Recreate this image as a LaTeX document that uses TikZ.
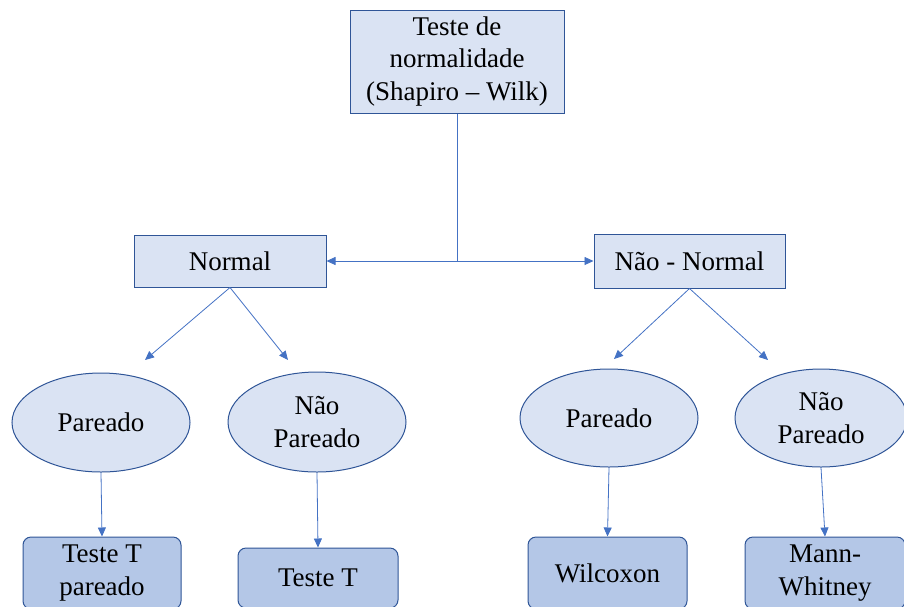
\documentclass[tikz,border=0pt]{standalone}
\usepackage{fontspec}
\setmainfont{Liberation Serif}
\newfontfamily\diagserif{Liberation Serif}
\usetikzlibrary{shapes.geometric,arrows.meta}
\definecolor{lightfill}{HTML}{DAE3F3}
\definecolor{darkfill}{HTML}{B4C7E7}
\definecolor{edgeblue}{HTML}{2F5597}
\definecolor{arrowblue}{HTML}{4472C4}
\tikzset{
  txt/.style={font=\diagserif\fontsize{27}{32.5}\selectfont, text=black, align=center, inner sep=0pt},
  sqbox/.style={txt, draw=edgeblue, fill=lightfill, line width=1pt},
  ovalnode/.style={txt, ellipse, draw=edgeblue, fill=lightfill, line width=1pt},
  resbox/.style={txt, draw=edgeblue, fill=darkfill, line width=1pt, rounded corners=8pt},
  conn/.style={draw=arrowblue, line width=0.8pt, -{Triangle[length=9pt,width=8pt]}},
  plain/.style={draw=arrowblue, line width=0.8pt}
}
\begin{document}
\begin{tikzpicture}[x=1pt,y=-1pt]
\useasboundingbox (0,0) rectangle (904,606);
\clip (0,0) rectangle (904,606);
% top box
\node[sqbox, minimum width=214pt, minimum height=103pt] (top) at (457,61.5) {Teste de\\normalidade\\(Shapiro – Wilk)};
% level 2
\node[sqbox, minimum width=192pt, minimum height=52pt] (normal) at (230,261) {Normal};
\node[sqbox, minimum width=191pt, minimum height=54pt] (nnormal) at (689.5,261) {Não - Normal};
\coordinate (split) at (457,261);
\draw[plain] (top.south) -- (split);
\draw[conn] (split) -- (normal.east);
\draw[conn] (split) -- (nnormal.west);
% ellipses
\node[ovalnode, minimum width=178pt, minimum height=99pt] (p1) at (101,422.5) {Pareado};
\node[ovalnode, minimum width=178pt, minimum height=100pt] (np1) at (317,422) {Não\\Pareado};
\node[ovalnode, minimum width=178pt, minimum height=98pt] (p2) at (609,418) {Pareado};
\node[ovalnode, minimum width=172pt, minimum height=98pt] (np2) at (821,418) {Não\\Pareado};
% arrows from level 2 (free ends)
\coordinate (a1) at (145,360);
\coordinate (a2) at (288,360);
\coordinate (a3) at (614,359);
\coordinate (a4) at (768,360);
\draw[conn] (normal.south) -- (a1);
\draw[conn] (normal.south) -- (a2);
\draw[conn] (nnormal.south) -- (a3);
\draw[conn] (nnormal.south) -- (a4);
% result boxes
\node[resbox, minimum width=158pt, minimum height=72pt] (r1) at (102,573) {Teste T\\pareado};
\node[resbox, minimum width=160pt, minimum height=60pt] (r2) at (318,578) {Teste T};
\node[resbox, minimum width=159pt, minimum height=72pt] (r3) at (607.5,573) {Wilcoxon};
\node[resbox, minimum width=160pt, minimum height=72pt] (r4) at (825,573) {Mann-\\Whitney};
\draw[conn] (p1.south) -- (r1.north);
\draw[conn] (np1.south) -- (r2.north);
\draw[conn] (p2.south) -- (r3.north);
\draw[conn] (np2.south) -- (r4.north);
\end{tikzpicture}
\end{document}
